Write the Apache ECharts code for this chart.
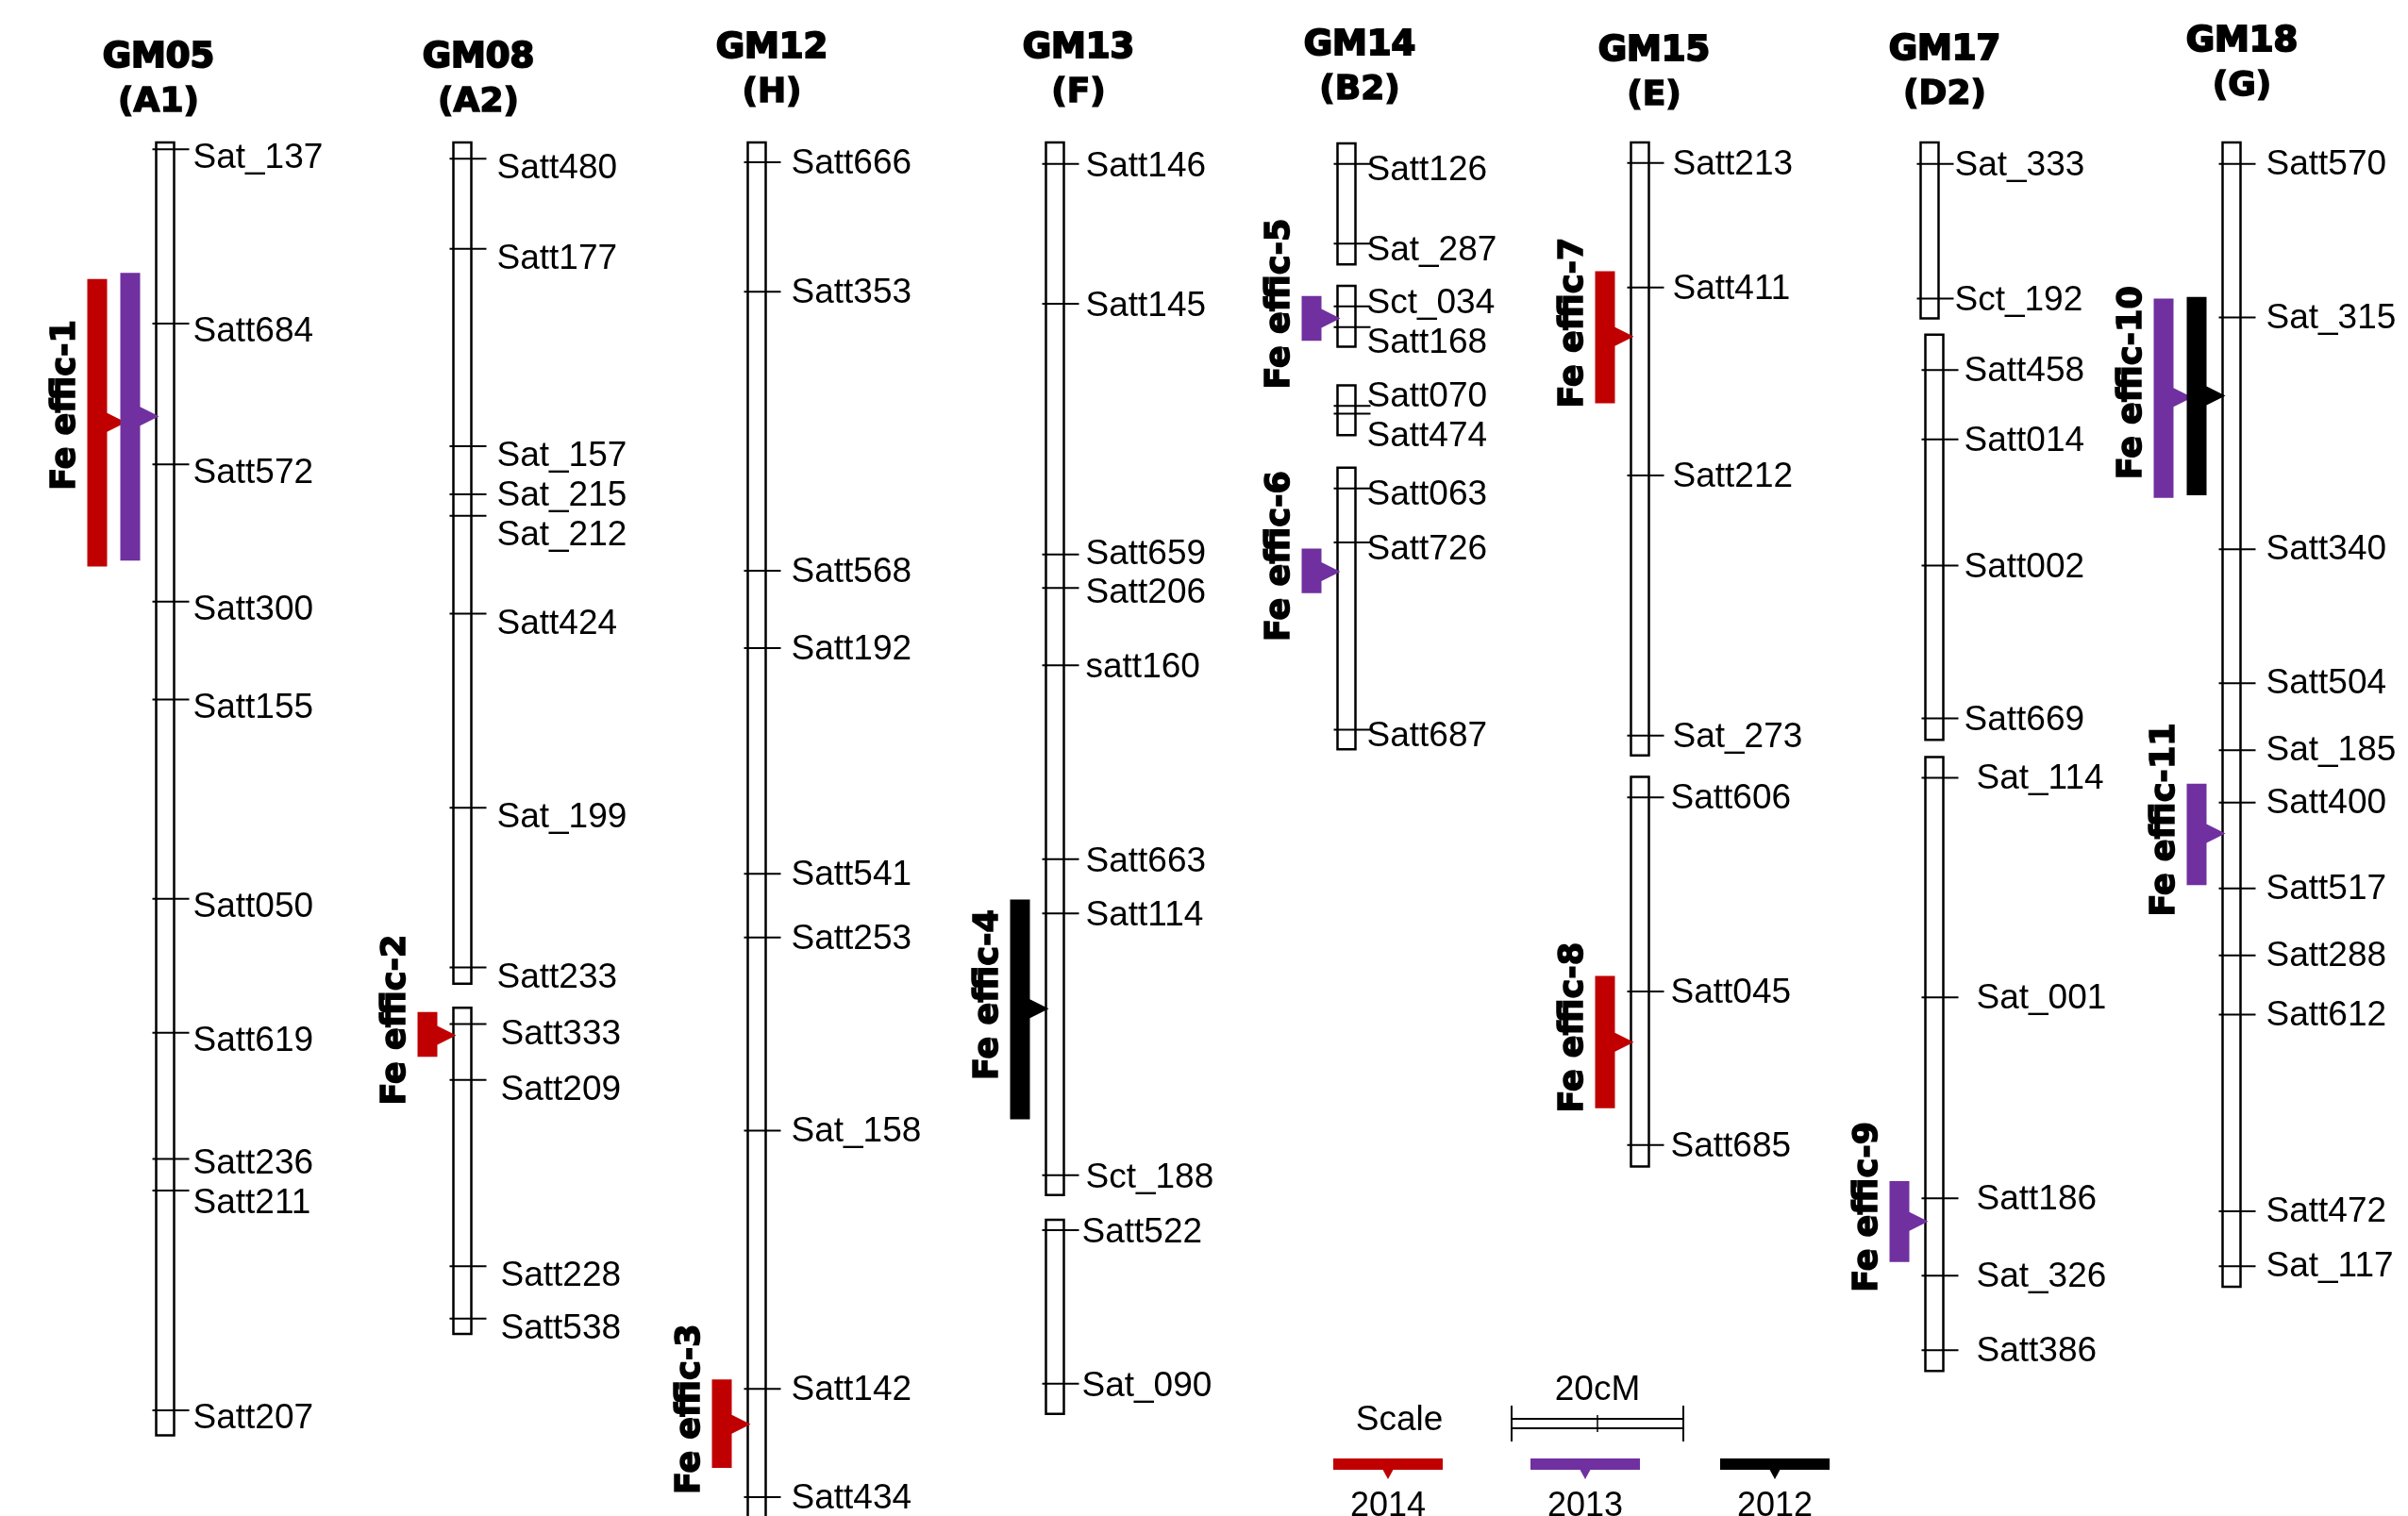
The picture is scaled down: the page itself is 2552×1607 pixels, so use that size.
<!DOCTYPE html>
<html>
<head>
<meta charset="utf-8">
<script src="https://cdn.jsdelivr.net/npm/echarts@6/dist/echarts.min.js"></script>
<style>
html,body{margin:0;padding:0;background:#fff;}
#chart{width:2552px;height:1607px;}
</style>
</head>
<body>
<div id="chart"></div>
<script>
// linkage groups
var chromNames=['GM05','GM08','GM12','GM13','GM14','GM15','GM17','GM18'];
var chromGroups=['(A1)','(A2)','(H)','(F)','(B2)','(E)','(D2)','(G)'];

// map segments : [chrom, top cM, bottom cM]
var segments=[
	[0,0,150.6],
	[1,0,98.0],[1,100.8,138.8],
	[2,0,162],
	[3,0,122.6],[3,125.5,148.1],
	[4,0.1,14.2],[4,16.7,23.8],[4,28.3,34.1],[4,37.9,70.7],
	[5,0,71.4],[5,73.9,119.3],
	[6,0,20.5],[6,22.4,69.6],[6,71.6,143.1],
	[7,0,133.3]
];

// SSR markers : [chrom, name, cM]
var markers=[
	[0,'Sat_137',0.8],[0,'Satt684',21.1],[0,'Satt572',37.5],[0,'Satt300',53.5],[0,'Satt155',64.9],
	[0,'Satt050',88.1],[0,'Satt619',103.7],[0,'Satt236',118.4],[0,'Satt211',122.1],[0,'Satt207',147.7],
	[1,'Satt480',1.9],[1,'Satt177',12.4],[1,'Sat_157',35.4],[1,'Sat_215',41.0],[1,'Sat_212',43.5],
	[1,'Satt424',54.9],[1,'Sat_199',77.5],[1,'Satt233',96.1],[1,'Satt333',102.7],[1,'Satt209',109.2],
	[1,'Satt228',130.9],[1,'Satt538',137.0],
	[2,'Satt666',2.3],[2,'Satt353',17.4],[2,'Satt568',49.9],[2,'Satt192',58.9],[2,'Satt541',85.2],
	[2,'Satt253',92.6],[2,'Sat_158',115.1],[2,'Satt142',145.2],[2,'Satt434',157.8],
	[3,'Satt146',2.5],[3,'Satt145',18.8],[3,'Satt659',48.0],[3,'Satt206',51.9],[3,'satt160',60.9],
	[3,'Satt663',83.5],[3,'Satt114',89.8],[3,'Sct_188',120.3],[3,'Satt522',126.7],[3,'Sat_090',144.6],
	[4,'Satt126',2.5],[4,'Sat_287',11.8],[4,'Sct_034',19.1],[4,'Satt168',21.5],[4,'Satt070',30.7],
	[4,'Satt474',31.6],[4,'Satt063',40.3],[4,'Satt726',46.6],[4,'Satt687',68.4],
	[5,'Satt213',2.4],[5,'Satt411',16.9],[5,'Satt212',38.8],[5,'Sat_273',69.1],[5,'Satt606',76.3],
	[5,'Satt045',98.9],[5,'Satt685',116.8],
	[6,'Sat_333',2.5],[6,'Sct_192',18.2],[6,'Satt458',26.5],[6,'Satt014',34.6],[6,'Satt002',49.3],
	[6,'Satt669',67.1],[6,'Sat_114',74.0],[6,'Sat_001',99.6],[6,'Satt186',123.0],[6,'Sat_326',132.0],
	[6,'Satt386',140.7],
	[7,'Satt570',2.5],[7,'Sat_315',20.4],[7,'Satt340',47.4],[7,'Satt504',63.0],[7,'Sat_185',70.8],
	[7,'Satt400',76.9],[7,'Satt517',86.9],[7,'Satt288',94.7],[7,'Satt612',101.6],[7,'Satt472',124.5],
	[7,'Sat_117',130.9]
];

// QTL
var qtlLabel=['Fe effic-1','Fe effic-1','Fe effic-2','Fe effic-3','Fe effic-4','Fe effic-5','Fe effic-6','Fe effic-7','Fe effic-8','Fe effic-9','Fe effic-10','Fe effic-10','Fe effic-11'];
var qtlChrom=[0,0,1,2,3,4,4,5,5,6,7,7,7];
var qtlYear=['2014','2013','2014','2014','2012','2013','2013','2014','2014','2013','2013','2012','2013'];
var qtlStart=[15.9,15.2,101.3,144.1,88.2,17.9,47.3,15.0,97.1,121.0,18.2,18.0,74.7];
var qtlEnd=[49.4,48.7,106.5,154.4,113.8,23.1,52.5,30.4,112.5,130.4,41.4,41.1,86.5];
var qtlPeak=[32.6,31.9,104.0,149.3,100.9,20.5,50.0,22.6,104.8,125.7,29.7,29.5,80.5];

var years=['2014','2013','2012'];
var yearColors=['#C00000','#7030A0','#000000'];
var scaleCM=20;

// ---- layout ----
var chromX=[175,490,802,1118,1427,1738,2045,2365];
var segShift=[0, 0,0, 0, 0,0, 0,0,0,0, 0,0, 0,5,5, 0];
var segLabelDx=[20, 27,31, 27, 23,19, 12,12,12,12, 25,23, 17,22,35, 27];
var chromLabelDy=[1.0,1.2,0.2,0.3,0.8,0.2,0.2,0.1];
var titleX=[168,507,818,1143,1441,1753,2061,2376];
var titleY=[61,61,51,51,48,54,53,44];
var qtlCol=[1,0,0,0,0,0,0,0,0,0,1,0,0];
var CHR_W=19, BAR_W=21, BAR_GAP=17, COL_STEP=35, LABEL_GAP=4.6;

function findSeg(c,cm){
	for(var i=0;i<segments.length;i++){
		if(segments[i][0]==c && cm>=segments[i][1]-0.5 && cm<=segments[i][2]+0.5){ return i; }
	}
	return 0;
}

// spread labels so they don't overlap (centred clusters)
function spreadLabels(pos,gap){
	var cl=pos.map(function(p){ return {sum:p,n:1,start:p}; });
	var changed=true;
	while(changed){
		changed=false;
		for(var i=0;i<cl.length-1;i++){
			var a=cl[i], b=cl[i+1];
			if(a.start+a.n*gap>b.start){
				var s=a.sum+b.sum, n=a.n+b.n;
				cl.splice(i,2,{sum:s,n:n,start:s/n-(n-1)*gap/2});
				changed=true;
				break;
			}
		}
	}
	var out=[];
	cl.forEach(function(c){ for(var k=0;k<c.n;k++){ out.push(c.start+k*gap); } });
	return out;
}

var markerItems=[];
chromNames.forEach(function(nm,c){
	var list=markers.filter(function(m){ return m[0]==c; }).sort(function(a,b){ return a[2]-b[2]; });
	var lab=spreadLabels(list.map(function(m){ return m[2]; }),LABEL_GAP);
	list.forEach(function(m,i){
		var s=findSeg(c,m[2]);
		markerItems.push({x:chromX[c]+segShift[s], cm:m[2], labelCM:lab[i]+chromLabelDy[c], dx:segLabelDx[s], name:m[1]});
	});
});

var segItems=segments.map(function(s,i){ return [chromX[s[0]]+segShift[i], s[1], s[2]]; });

var qtlItems=qtlLabel.map(function(l,i){
	var s=findSeg(qtlChrom[i],qtlPeak[i]);
	return {x:chromX[qtlChrom[i]]+segShift[s], start:qtlStart[i], end:qtlEnd[i], peak:qtlPeak[i],
		col:qtlCol[i], color:yearColors[years.indexOf(qtlYear[i])]};
});

var qtlLabelItems=[];
qtlLabel.forEach(function(l,i){
	var it=qtlItems[i];
	var found=null;
	qtlLabelItems.forEach(function(q){ if(q.name==l){ found=q; } });
	if(found==null){
		qtlLabelItems.push({name:l,x:it.x,start:it.start,end:it.end,col:it.col});
	}else{
		found.start=Math.min(found.start,it.start);
		found.end=Math.max(found.end,it.end);
		found.col=Math.max(found.col,it.col);
	}
});

var chart=echarts.init(document.getElementById('chart'));
var option={
	animation:false,
	backgroundColor:'#fff',
	grid:{left:0,right:0,top:0,bottom:0},
	xAxis:{type:'value',min:0,max:2552,show:false},
	yAxis:{type:'value',min:-16.59,max:160,inverse:true,show:false},
	series:[
		{
			type:'custom', z:2,
			data:segItems,
			renderItem:function(params,api){
				var p0=api.coord([api.value(0),api.value(1)]);
				var p1=api.coord([api.value(0),api.value(2)]);
				return {type:'rect',shape:{x:p0[0]-CHR_W/2,y:p0[1],width:CHR_W,height:p1[1]-p0[1]},
					style:{fill:'#fff',stroke:'#000',lineWidth:2.5}};
			}
		},
		{
			type:'custom', z:3,
			data:markerItems.map(function(m){ return [m.x,m.cm]; }),
			renderItem:function(params,api){
				var m=markerItems[params.dataIndex];
				var p=api.coord([m.x,m.cm]);
				var q=api.coord([m.x,m.labelCM]);
				return {type:'group',children:[
					{type:'line',shape:{x1:p[0]-CHR_W/2-4,y1:p[1],x2:p[0]+CHR_W/2+16,y2:p[1]},
						style:{stroke:'#000',lineWidth:2}},
					{type:'text',x:p[0]+CHR_W/2+m.dx,y:q[1],
						style:{text:m.name,font:'37px "Liberation Sans", Arial, sans-serif',fill:'#000',
							align:'left',verticalAlign:'middle'}}
				]};
			}
		},
		{
			type:'custom', z:4,
			data:qtlItems.map(function(q){ return [q.x,q.peak]; }),
			renderItem:function(params,api){
				var q=qtlItems[params.dataIndex];
				var a=api.coord([q.x,q.start]), b=api.coord([q.x,q.end]), p=api.coord([q.x,q.peak]);
				var right=a[0]-CHR_W/2-BAR_GAP-q.col*COL_STEP, left=right-BAR_W;
				return {type:'polygon',shape:{points:[
					[left,a[1]],[right,a[1]],[right,p[1]-10],[right+20,p[1]],[right,p[1]+10],[right,b[1]],[left,b[1]]
				]},style:{fill:q.color}};
			}
		},
		{
			type:'custom', z:5,
			data:qtlLabelItems.map(function(q){ return [q.x,(q.start+q.end)/2]; }),
			renderItem:function(params,api){
				var q=qtlLabelItems[params.dataIndex];
				var p=api.coord([q.x,(q.start+q.end)/2-1.7]);
				var left=p[0]-CHR_W/2-BAR_GAP-q.col*COL_STEP-BAR_W;
				return {type:'text',x:left-23,y:p[1],rotation:Math.PI/2,
					style:{text:q.name,font:'bold 35px "DejaVu Sans", sans-serif',fill:'#000',
						stroke:'#000',lineWidth:1.5,align:'center',verticalAlign:'middle'}};
			}
		}
	]
};
chart.setOption(option);

// titles + legend
var y0=chart.convertToPixel({yAxisIndex:0},0);
var len=chart.convertToPixel({yAxisIndex:0},scaleCM)-y0;
var g=[];
chromNames.forEach(function(nm,i){
	g.push({type:'text',x:titleX[i],y:titleY[i],style:{text:nm,font:'bold 37px "DejaVu Sans", sans-serif',
		fill:'#000',stroke:'#000',lineWidth:2,align:'center',verticalAlign:'middle'}});
	g.push({type:'text',x:titleX[i],y:titleY[i]+48,style:{text:chromGroups[i],font:'bold 36px "DejaVu Sans", sans-serif',
		fill:'#000',stroke:'#000',lineWidth:1.5,align:'center',verticalAlign:'middle'}});
});
var sx=1602;
g.push({type:'text',x:1483,y:1506,style:{text:'Scale',font:'37px "Liberation Sans", Arial, sans-serif',fill:'#000',align:'center',verticalAlign:'middle'}});
g.push({type:'text',x:sx+len/2,y:1474,style:{text:scaleCM+'cM',font:'37px "Liberation Sans", Arial, sans-serif',fill:'#000',align:'center',verticalAlign:'middle'}});
g.push({type:'rect',shape:{x:sx,y:1504,width:len,height:10},style:{fill:'#fff',stroke:'#000',lineWidth:2}});
g.push({type:'line',shape:{x1:sx,y1:1490,x2:sx,y2:1528},style:{stroke:'#000',lineWidth:2}});
g.push({type:'line',shape:{x1:sx+len,y1:1490,x2:sx+len,y2:1528},style:{stroke:'#000',lineWidth:2}});
g.push({type:'line',shape:{x1:sx+len/2,y1:1500,x2:sx+len/2,y2:1518},style:{stroke:'#000',lineWidth:1.5}});
var legX=[1413,1622,1823];
years.forEach(function(yr,i){
	var cx=legX[i]+58;
	g.push({type:'rect',shape:{x:legX[i],y:1546,width:116,height:12},style:{fill:yearColors[i]}});
	g.push({type:'polygon',shape:{points:[[cx-6,1557],[cx+6,1557],[cx,1568]]},style:{fill:yearColors[i]}});
	g.push({type:'text',x:cx,y:1579,style:{text:yr,font:'36px "Liberation Sans", Arial, sans-serif',fill:'#000',align:'center',verticalAlign:'top'}});
});
chart.setOption({graphic:g});
</script>
</body>
</html>
